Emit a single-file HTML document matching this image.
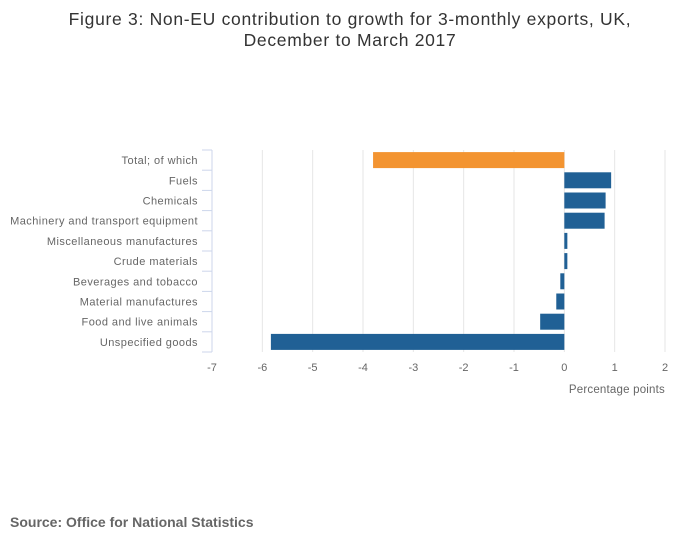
<!DOCTYPE html>
<html><head><meta charset="utf-8"><style>
body{margin:0;background:#fff;width:700px;height:549px;overflow:hidden;font-family:"Liberation Sans",sans-serif}
</style></head><body>
<svg width="700" height="549" xmlns="http://www.w3.org/2000/svg">
<text x="350" y="25" text-anchor="middle" font-size="17.5" letter-spacing="0.7" fill="#333">Figure 3: Non-EU contribution to growth for 3-monthly exports, UK,</text>
<text x="350" y="46" text-anchor="middle" font-size="17.5" letter-spacing="0.7" fill="#333">December to March 2017</text>
<g id="grid"></g>
<g id="bars"></g>
<g id="yaxis"></g>
<g id="xaxis"></g>
<text x="665" y="393" text-anchor="end" font-size="11.5" letter-spacing="0.2" fill="#666">Percentage points</text>
<text x="10" y="527" font-size="14" font-weight="bold" fill="#666">Source: Office for National Statistics</text>
</svg>
<script>
const categories=["Total; of which","Fuels","Chemicals","Machinery and transport equipment","Miscellaneous manufactures","Crude materials","Beverages and tobacco","Material manufactures","Food and live animals","Unspecified goods"];
const values=[-3.8,0.93,0.82,0.80,0.06,0.06,-0.08,-0.16,-0.48,-5.83];
const xTicks=[-7,-6,-5,-4,-3,-2,-1,0,1,2];
const NS="http://www.w3.org/2000/svg";
const x0=212,x1=665,xmin=-7,xmax=2,yTop=150,yBottom=352;
const band=(yBottom-yTop)/categories.length;
function xs(v){return x0+(v-xmin)/(xmax-xmin)*(x1-x0);}
function mk(t,a,p){const e=document.createElementNS(NS,t);for(const k in a)e.setAttribute(k,a[k]);p.appendChild(e);return e;}
const grid=document.getElementById('grid'),bars=document.getElementById('bars'),ya=document.getElementById('yaxis'),xa=document.getElementById('xaxis');
xTicks.forEach(t=>{
  if(t!==xmin){const l=mk('line',{x1:xs(t),x2:xs(t),y1:yTop,y2:yBottom,stroke:'#e6e6e6','stroke-width':1},grid);
  
  }
  const tx=mk('text',{x:xs(t),y:371,'text-anchor':'middle','font-size':11,fill:'#666'},xa);
  tx.textContent=String(t);
  
  
});
const ax=mk('line',{x1:x0,x2:x0,y1:yTop,y2:yBottom,stroke:'#ccd6eb','stroke-width':1},ya);


for(let i=0;i<=categories.length;i++){
  const y=yTop+i*band;
  const tk=mk('line',{x1:x0-10,x2:x0,y1:y,y2:y,stroke:'#ccd6eb','stroke-width':1},ya);
  
  
}
categories.forEach((c,i)=>{
  const yc=yTop+(i+0.5)*band;
  const tx=mk('text',{x:198,y:yc+4,'text-anchor':'end','font-size':11,'letter-spacing':0.45,fill:'#666'},ya);
  tx.textContent=c;
  
  
  const v=values[i];
  const a=xs(Math.min(0,v)),b=xs(Math.max(0,v));
  const r=mk('rect',{x:a,y:yc-8,width:Math.max(b-a,0.5),height:16,fill:i===0?'#f39431':'#206095'},bars);
  
  
});
</script>
</body></html>
